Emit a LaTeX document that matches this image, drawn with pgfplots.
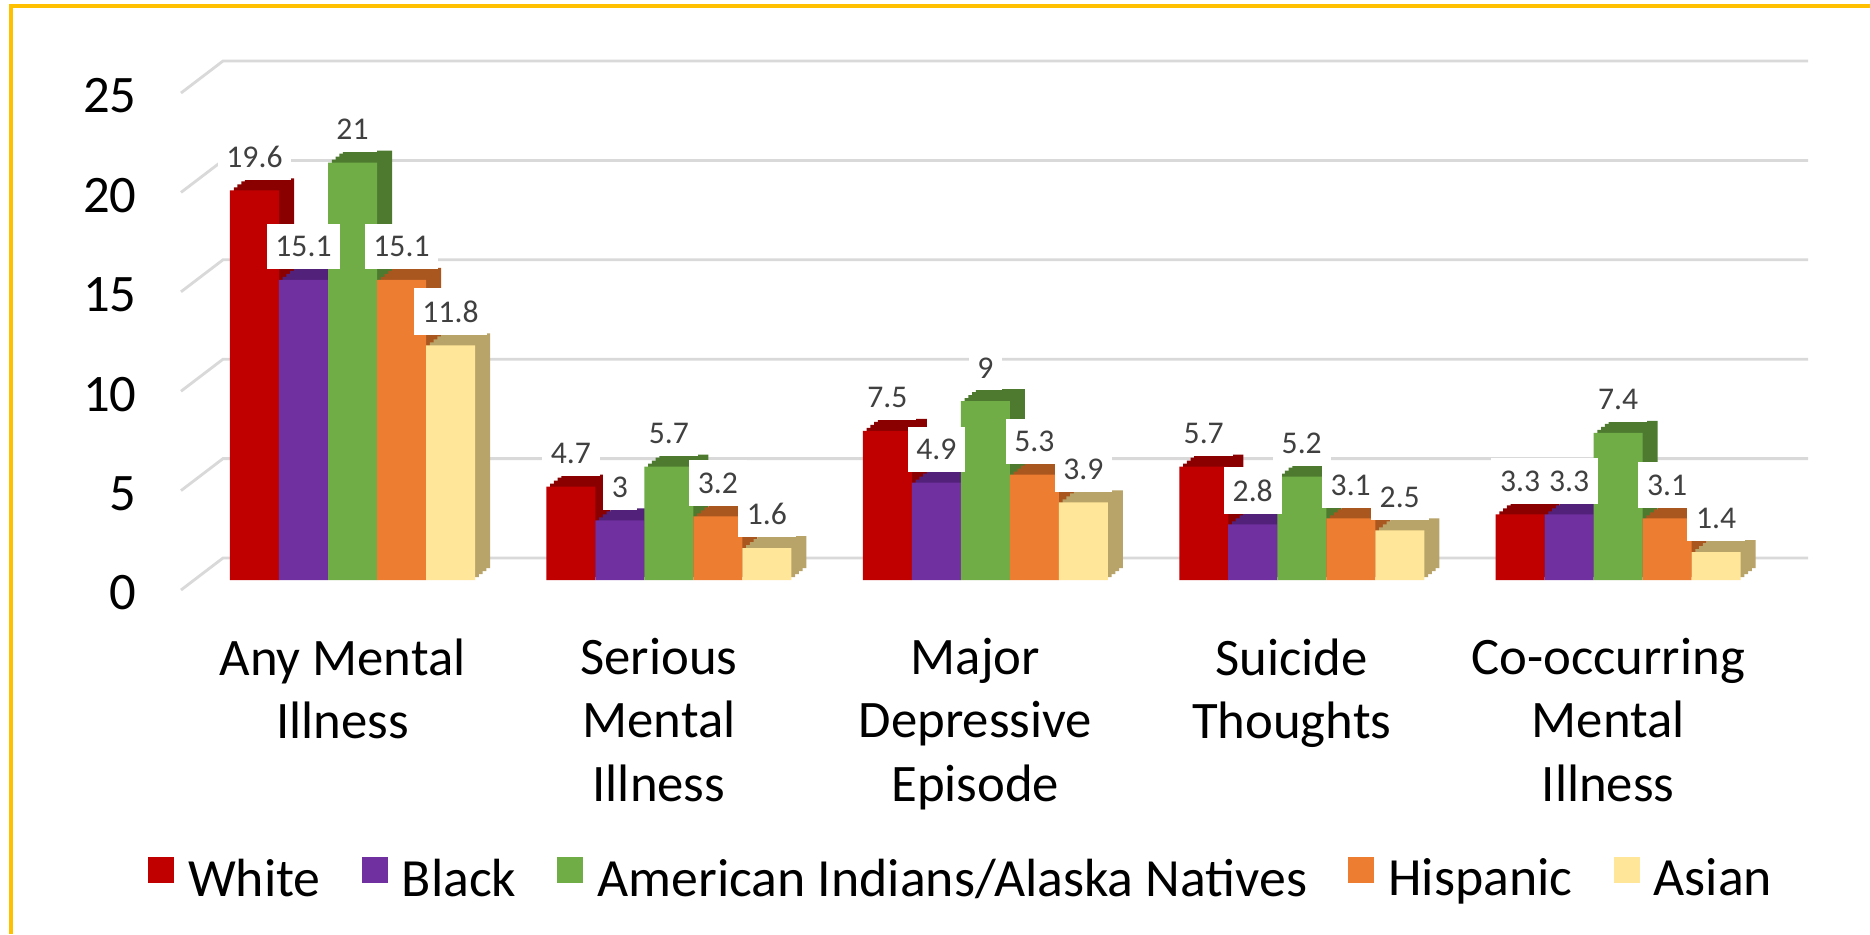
\documentclass[border=0pt]{standalone}
\usepackage{pgfplots}
\pgfplotsset{compat=1.18}
\usepackage{pgfplotstable}
\usepackage{fontspec}
\setmainfont{Carlito}

\definecolor{cwhite}{HTML}{C00000}
\definecolor{dwhite}{HTML}{8A0000}
\definecolor{cblack}{HTML}{7030A0}
\definecolor{dblack}{HTML}{52217A}
\definecolor{caian}{HTML}{70AD47}
\definecolor{daian}{HTML}{4E7A30}
\definecolor{chisp}{HTML}{ED7D31}
\definecolor{dhisp}{HTML}{A9561F}
\definecolor{casian}{HTML}{FFE699}
\definecolor{dasian}{HTML}{B8A468}
\definecolor{gridc}{HTML}{D9D9D9}
\definecolor{labc}{HTML}{404040}
\definecolor{frame}{HTML}{FFC000}

% rates by group (percent)
\pgfplotstableread{
x white black aian hisp asian
0 19.6 15.1 21  15.1 11.8
1 4.7  3    5.7 3.2  1.6
2 7.5  4.9  9   5.3  3.9
3 5.7  2.8  5.2 3.1  2.5
4 3.3  3.3  7.4 3.1  1.4
}\data

% one series as extruded bars: #1 column, #2 face, #3 side, #4 shift
\newcommand{\cube}[4]{%
  \addplot[forget plot,fill=#3,bar shift=#4,xshift=0.15cm,yshift=0.22cm] table[x=x,y=#1]{\data};
  \addplot[forget plot,fill=#3,bar shift=#4,xshift=0.1125cm,yshift=0.19cm] table[x=x,y=#1]{\data};
  \addplot[forget plot,fill=#3,bar shift=#4,xshift=0.075cm,yshift=0.16cm] table[x=x,y=#1]{\data};
  \addplot[forget plot,fill=#3,bar shift=#4,xshift=0.0375cm,yshift=0.13cm] table[x=x,y=#1]{\data};
  \addplot[fill=#2,bar shift=#4,yshift=0.1cm] table[x=x,y=#1]{\data};
}
% value labels, drawn last so they sit on top
\newcommand{\labels}[2]{%
  \addplot[forget plot,fill=none,draw=none,bar shift=#2,yshift=0.1cm,
    nodes near coords] table[x=x,y=#1]{\data};
}

\begin{document}
\begin{tikzpicture}
\useasboundingbox (0,0) rectangle (18.7,9.34);
\fill[white] (0,0) rectangle (18.7,9.34);
\draw[frame,line width=0.9pt] (0.11,0) -- (0.11,9.28) -- (18.7,9.28);

\begin{axis}[
    at={(1.81cm,3.44cm)}, anchor=south west,
    scale only axis,
    width=16.27cm, height=4.97cm,
    xmin=-0.542, xmax=4.6,
    ymin=0, ymax=25,
    clip=false,
    axis line style={draw=none},
    major tick length=0pt,
    ybar, bar width=0.49cm,
    every axis plot/.append style={draw=none},
    ytick={0,5,...,25},
    xtick={0,...,4},
    xticklabels={{Any Mental\\Illness},{Serious\\Mental\\Illness},{Major\\Depressive\\Episode},{Suicide\\Thoughts},{Co-occurring\\Mental\\Illness}},
    /pgf/number format/assume math mode=true,
    tick label style={font=\fontsize{15}{18}\selectfont},
    xticklabel style={align=center, yshift=-0.36cm, xshift=-0.1cm},
    yticklabel style={xshift=-0.32cm, yshift=-0.03cm},
    every node near coord/.append style={anchor=south, fill=white, text=labc,
        font=\fontsize{9}{10}\selectfont, inner xsep=2.5pt, inner ysep=3.5pt, yshift=0.1cm},
    legend columns=5,
    legend style={at={(0.481,-0.5835)}, anchor=center, draw=none,
        font=\fontsize{15.3}{18}\selectfont,
        /tikz/every odd column/.append style={column sep=0.07cm},
        /tikz/every even column/.append style={column sep=0.34cm}},
    legend image code/.code={\fill[#1] (0cm,-0.13cm) rectangle (0.26cm,0.13cm);},
]

% floor-and-wall grid
\pgfplotsinvokeforeach{0,5,10,15,20,25}{
  \draw[gridc,line width=0.8pt] (axis cs:-0.542,#1) -- ++(0.42cm,0.32cm) -- ([yshift=0.32cm]axis cs:4.6,#1);
}

\cube{white}{cwhite}{dwhite}{-0.98cm}
\cube{black}{cblack}{dblack}{-0.49cm}
\cube{aian}{caian}{daian}{0cm}
\cube{hisp}{chisp}{dhisp}{0.49cm}
\cube{asian}{casian}{dasian}{0.98cm}

\labels{white}{-0.98cm}
\labels{black}{-0.49cm}
\labels{aian}{0cm}
\labels{hisp}{0.49cm}
\labels{asian}{0.98cm}

\legend{White, Black, American Indians/Alaska Natives, Hispanic, Asian}
\end{axis}
\end{tikzpicture}
\end{document}
